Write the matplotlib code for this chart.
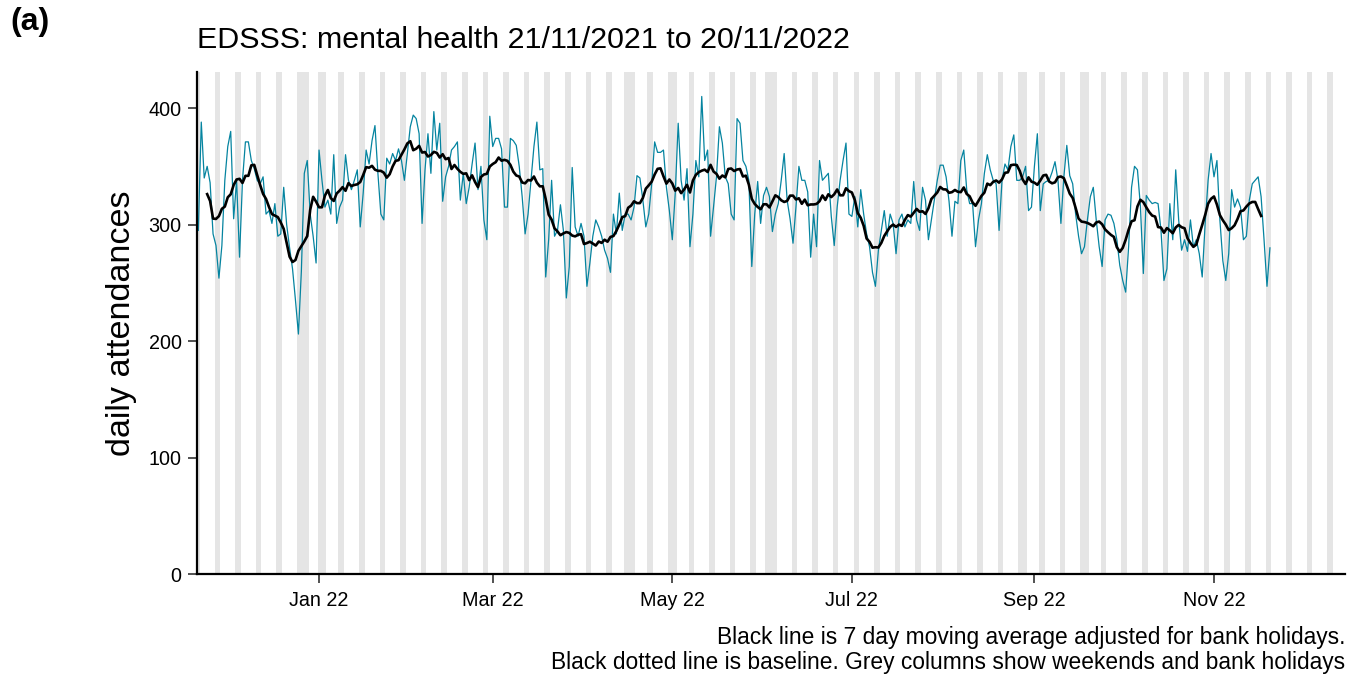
import matplotlib
matplotlib.use("Agg")
import matplotlib.pyplot as plt
import matplotlib.dates as mdates
import numpy as np
import pandas as pd

plt.rcParams['font.family'] = ['Liberation Sans', 'DejaVu Sans']

# ---- data ----
start_date = "2021-11-21"
# daily attendances, one row per week (Sunday .. Saturday)
attendances = [
    295, 388, 340, 350, 336, 292, 282,
    254, 282, 338, 367, 380, 305, 338,
    272, 338, 371, 371, 355, 348, 338,
    335, 341, 309, 312, 301, 318, 290,
    292, 332, 300, 280, 262, 235, 206,
    260, 344, 355, 309, 290, 267, 364,
    338, 315, 321, 309, 360, 301, 315,
    321, 360, 338, 330, 338, 347, 298,
    327, 364, 352, 372, 385, 344, 309,
    304, 357, 352, 361, 355, 365, 355,
    338, 361, 384, 394, 391, 378, 301,
    347, 378, 344, 397, 364, 387, 320,
    341, 350, 364, 367, 371, 321, 344,
    318, 332, 352, 370, 330, 350, 304,
    287, 393, 367, 374, 374, 365, 315,
    315, 374, 372, 368, 350, 324, 292,
    309, 338, 367, 388, 347, 348, 255,
    287, 338, 290, 295, 317, 295, 237,
    264, 349, 298, 290, 301, 290, 247,
    267, 290, 304, 298, 290, 278, 271,
    259, 309, 292, 327, 295, 309, 309,
    304, 315, 342, 340, 321, 298, 309,
    335, 371, 362, 362, 364, 332, 312,
    287, 327, 387, 338, 321, 348, 281,
    309, 355, 341, 410, 355, 364, 290,
    315, 341, 384, 370, 341, 335, 309,
    304, 391, 387, 355, 350, 338, 264,
    309, 337, 301, 325, 332, 324, 294,
    309, 318, 338, 361, 321, 305, 284,
    315, 350, 338, 338, 328, 272, 309,
    281, 355, 338, 341, 344, 307, 282,
    315, 338, 355, 370, 309, 307, 324,
    298, 330, 309, 292, 281, 259, 247,
    278, 295, 312, 290, 309, 301, 275,
    304, 309, 298, 304, 301, 337, 304,
    295, 332, 321, 287, 304, 321, 338,
    351, 351, 341, 320, 290, 320, 318,
    355, 364, 330, 318, 318, 281, 304,
    318, 344, 360, 347, 338, 335, 295,
    338, 352, 347, 367, 377, 338, 338,
    341, 350, 312, 315, 350, 378, 312,
    335, 337, 338, 345, 354, 338, 301,
    341, 368, 342, 335, 309, 290, 275,
    281, 304, 324, 332, 304, 281, 264,
    304, 309, 308, 301, 287, 265, 252,
    242, 281, 332, 350, 347, 316, 258,
    325, 321, 318, 319, 318, 295, 252,
    262, 318, 287, 347, 304, 278, 287,
    277, 304, 281, 287, 275, 255, 301,
    338, 361, 341, 355, 304, 269, 252,
    275, 330, 315, 322, 315, 287, 290,
    321, 335, 338, 341, 324, 287, 247,
    280,
]
bank_holidays = ["2021-12-27", "2021-12-28", "2022-01-03", "2022-04-15",
                 "2022-04-18", "2022-05-02", "2022-06-02", "2022-06-03",
                 "2022-08-29", "2022-09-19"]
shade_end = "2022-12-16"
tick_months = ["2022-01-01", "2022-03-01", "2022-05-01",
               "2022-07-01", "2022-09-01", "2022-11-01"]
y_ticks = [0, 100, 200, 300, 400]

title = "EDSSS: mental health 21/11/2021 to 20/11/2022"
caption = ("Black line is 7 day moving average adjusted for bank holidays.\n"
           "Black dotted line is baseline. Grey columns show weekends and bank holidays")

# ---- derived ----
dates = pd.date_range(start_date, periods=len(attendances), freq="D")
series = pd.Series(attendances, index=dates, dtype=float)
ma7 = series.rolling(7, center=True).mean()

shade_days = pd.date_range(start_date, shade_end, freq="D")
bh = set(pd.to_datetime(bank_holidays))
flags = [(d.weekday() >= 5 or d in bh) for d in shade_days]

# group consecutive shaded days into runs
runs = []
cur = None
for d, f in zip(shade_days, flags):
    x = mdates.date2num(d)
    if f:
        if cur is None:
            cur = [x, x]
        else:
            cur[1] = x
    elif cur is not None:
        runs.append(cur)
        cur = None
if cur is not None:
    runs.append(cur)

# ---- figure ----
W, H = 1350, 674
fig = plt.figure(figsize=(W / 100, H / 100), dpi=100)
ax = fig.add_axes([197 / W, 1 - 574 / H, (1345 - 197) / W, (574 - 72) / H])

for a, b in runs:
    ax.axvspan(a - 0.45, b + 0.45, color="#E5E5E5", lw=0, zorder=0)

ax.plot(mdates.date2num(dates), series.values, color="#0584A0", lw=0.9, zorder=2)
ax.plot(mdates.date2num(dates), ma7.values, color="black", lw=1.9, zorder=3)

x0 = mdates.date2num(pd.Timestamp(start_date))
ax.set_xlim(x0 - 0.45, x0 + 389.5)
ax.set_ylim(0, 431)

ax.set_yticks(y_ticks)
ax.set_xticks(mdates.date2num(pd.to_datetime(tick_months)))
ax.xaxis.set_major_formatter(mdates.DateFormatter("%b %y"))

for s in ["top", "right"]:
    ax.spines[s].set_visible(False)
for s in ["left", "bottom"]:
    ax.spines[s].set_linewidth(1.6)
    ax.spines[s].set_color("black")

ax.tick_params(axis="both", length=6.5, width=1.2, color="#333333",
               labelsize=14.2, labelcolor="black")
ax.tick_params(axis="x", pad=5.5)
ax.tick_params(axis="y", pad=4.5)

ax.set_ylabel("daily attendances", fontsize=24.6, labelpad=8)

fig.text(197 / W, 1 - 40 / H, title, fontsize=21.9, ha="left", va="center")
fig.text(10 / W, 1 - 22 / H, "(a)", fontsize=23, fontweight="bold",
         ha="left", va="center")
fig.text(1345 / W, 1 - 650 / H, caption, fontsize=16.4, ha="right",
         va="center", linespacing=1.15, multialignment="right")

fig.savefig("out.png", dpi=100)
